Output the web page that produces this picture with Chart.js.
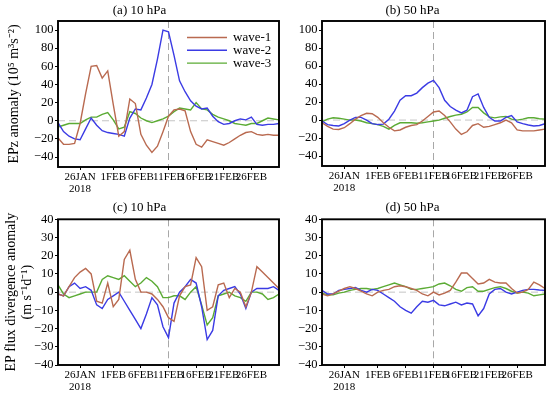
<!DOCTYPE html>
<html>
<head>
<meta charset="utf-8">
<title>EP flux anomalies, 2018 SSW</title>
<script src="https://cdn.jsdelivr.net/npm/chart.js@4.4.0/dist/chart.umd.min.js"></script>
<style>
  html, body { margin: 0; padding: 0; background: #fff; }
  #wrap { position: relative; width: 550px; height: 395px; overflow: hidden; }
  #wrap canvas { position: absolute; }
</style>
</head>
<body>
<div id="wrap">
  <canvas id="chart-a" width="282" height="198" style="left:0;top:0"></canvas>
  <canvas id="chart-b" width="270" height="198" style="left:280px;top:0"></canvas>
  <canvas id="chart-c" width="282" height="197" style="left:0;top:198px"></canvas>
  <canvas id="chart-d" width="270" height="197" style="left:280px;top:198px"></canvas>
</div>
<script>
// days since 22 Jan 2018 (daily values)
const days = [0,1,2,3,4,5,6,7,8,9,10,11,12,13,14,15,16,17,18,19,20,
              21,22,23,24,25,26,27,28,29,30,31,32,33,34,35,36,37,38,39,40];
const tickDays = [4, 10, 15, 20, 25, 30, 35];
const tickLabels = [['26JAN', '2018'], '1FEB', '6FEB', '11FEB', '16FEB', '21FEB', '26FEB'];
const onsetDay = 20; // 11 FEB
const waveNames = ['wave-1', 'wave-2', 'wave-3'];
const waveColors = ['#b96a50', '#3b3be4', '#5bab34'];

// (a) EPz anomaly, 10 hPa
const epz10Wave1 = [-19,-26,-26,-25,-3,30,60,61,47,55,18,-17,-12,24,19,-15,-27,-35,-28,-12,5,
                    12,13,11,-12,-26,-29,-21,-23,-25,-27,-24,-20,-16,-13,-12,-15,-16,-15,-16,-16];
const epz10Wave2 = [-2,-12,-17,-20,-21,-9,3,-5,-11,-13,-14,-15,-17,3,13,12,25,40,68,100,98,
                    72,44,32,22,16,13,14,5,-1,-4,-3,0,2,1,4,-4,-5,-4,-4,-3];
const epz10Wave3 = [-7,-5,-3,-3,-3,1,4,4,7,9,1,-9,-7,10,8,3,0,-2,0,2,5,
                    10,14,13,12,20,13,12,7,4,2,0,-3,-4,-5,-3,-3,0,3,2,1];

// (b) EPz anomaly, 50 hPa
const epz50Wave1 = [-3,-7,-10,-10.5,-8.5,-4,1,5,7.5,7,3,-3,-8,-12,-11,-8,-6,-5,-1,4,9,
                    10,5,-2,-10,-16,-13,-6,-4,-8,-7,-5,-3,0,-3,-11,-12,-12,-12,-11,-10];
const epz50Wave2 = [-1,-5,-6,-6.5,-4,0,3,3,0,-4,-5,-4.5,1,10,22,27,27,30,36,41,44,
                    36,22,15,11,8,11,26,29,14,3,-1,-1,3,5,-2,-4,-5.5,-6.5,-6,-4];
const epz50Wave3 = [-2,1,2.5,2,1,0,0,-1,-3,-4,-5,-7,-10,-6,-3,-3,-3,-3.5,-3,-2,-1,
                    0,2,4,5.5,6.5,9,14,14,8,3.5,2.5,3.5,4,1,0,1,2.5,2.5,1.5,1];

// (c) EP flux divergence anomaly, 10 hPa
const div10Wave1 = [-1,-2,3,8,11,13,10,-5,-6,5,-8,-4,18,23,7,0,0,-1,-4,-8,-14,
                    -16,-2,3,4,19,14,-10,-8,4,5,-3,2,0,-8,0,14,11,8,5,2];
const div10Wave2 = [-1,-2,3,5,2,3,1,-7,-9,-4,-2,0,-5,-10,-15,-20,-12,-3,-7,-19,-25,
                    -6,0,3,7,5,-8,-26,-21,-2,1,2,3,-1,-9,0,2,2,2,3,1];
const div10Wave3 = [4,-1,-3,-2,-1,0,0,0,7,9,8,7,9,6,3,5,8,6,3,-3,-3,
                    -2,-2,-4,0,3,-7,-18,-14,-2,-1,0,-2,-3,-5,0,0,-1,-4,-3,-1];

// (d) EP flux divergence anomaly, 50 hPa
const div50Wave1 = [-1,-2,-1,0.5,2,3,2,0.5,-1,-2,0,1,1.5,3,3.5,3,2,1,-1,-2,0,
                    -1.5,-0.5,1,5.5,10.5,10.5,7.5,4.5,5,7,5.5,5,5,2,-0.5,0,1.5,5.5,4,2];
const div50Wave2 = [1,-1,-1,1,1.5,2,2.5,1,0,1.5,1,-1,-3,-5,-8,-10,-11.5,-8,-5,-5.5,-4.5,
                    -7,-7.5,-6.5,-5.5,-7,-6,-6.5,-13,-9,-1,1.5,2,0,-1,0,1,1.5,1.5,1.2,1];
const div50Wave3 = [-0.5,-1.5,-1.5,-0.5,0,1,1.5,2,2,1.5,2,3,4,5,4,3,1.5,1.5,2,2.5,3,
                    4.5,5,3.5,1.5,0.5,2.5,3,0.5,0.5,1.5,2.5,3,2,0.5,-0.5,0,-0.5,-2,-1.5,-1];

const epzTicks = [-40, -20, 0, 20, 40, 60, 80, 100];
const divTicks = [-40, -30, -20, -10, 0, 10, 20, 30, 40];

Chart.defaults.font.family = '"Liberation Serif", "Times New Roman", serif';
Chart.defaults.color = '#000';

// dashed zero line, dashed onset line and the black box round the plot
const frameLines = {
    id: 'frameLines',
    beforeDatasetsDraw(chart) {
        const {ctx, chartArea: a, scales: {x, y}} = chart;
        ctx.save();
        ctx.lineWidth = 1;
        ctx.setLineDash([7, 4]);
        ctx.strokeStyle = '#c4c4c4';
        const y0 = y.getPixelForValue(0);
        ctx.beginPath();
        ctx.moveTo(a.left, y0);
        ctx.lineTo(a.right, y0);
        ctx.stroke();
        ctx.strokeStyle = '#a8a8a8';
        const xk = x.getPixelForValue(onsetDay);
        ctx.beginPath();
        ctx.moveTo(xk, a.top);
        ctx.lineTo(xk, a.bottom);
        ctx.stroke();
        ctx.restore();
    },
    afterDraw(chart) {
        const {ctx, chartArea: a} = chart;
        ctx.save();
        ctx.strokeStyle = '#000';
        ctx.lineWidth = 1.9;
        ctx.strokeRect(a.left, a.top, a.right - a.left, a.bottom - a.top);
        ctx.restore();
    }
};

// legend drawn inside the plot of panel (a)
const waveLegend = {
    id: 'waveLegend',
    afterDatasetsDraw(chart, args, opts) {
        if (!opts.show) return;
        const {ctx, chartArea: a} = chart;
        ctx.save();
        ctx.font = '13px "Liberation Serif", serif';
        ctx.textBaseline = 'middle';
        chart.data.datasets.forEach((ds, i) => {
            const y = a.top + 16.5 + i * 12.8;
            const x0 = a.left + 129;
            ctx.strokeStyle = ds.borderColor;
            ctx.lineWidth = 1.4;
            ctx.beginPath();
            ctx.moveTo(x0, y);
            ctx.lineTo(x0 + 40, y);
            ctx.stroke();
            ctx.fillStyle = '#000';
            ctx.fillText(ds.label, x0 + 46, y + 0.5);
        });
        ctx.restore();
    }
};

function makePanel(id, opts) {
    const datasets = opts.series.map((vals, i) => ({
        label: waveNames[i],
        data: vals,
        borderColor: waveColors[i],
        backgroundColor: waveColors[i],
        borderWidth: 1.4,
        pointRadius: 0,
        tension: 0,
        fill: false
    }));

    return new Chart(document.getElementById(id), {
        type: 'line',
        data: { labels: days, datasets: datasets },
        options: {
            responsive: false,
            animation: false,
            layout: { padding: { left: 0, right: opts.padRight, top: 0, bottom: 0 } },
            plugins: {
                legend: { display: false },
                tooltip: { enabled: false },
                title: {
                    display: true,
                    text: opts.title,
                    font: { size: 13, weight: 'normal' },
                    padding: opts.titlePad
                },
                waveLegend: { show: !!opts.legend }
            },
            scales: {
                x: {
                    type: 'linear',
                    min: 0,
                    max: 40,
                    border: { display: false },
                    grid: { drawOnChartArea: false, drawTicks: true, tickLength: 3, color: '#000' },
                    ticks: {
                        autoSkip: false,
                        maxRotation: 0,
                        padding: 1,
                        font: { size: 11, lineHeight: 1.08 },
                        callback: value => tickLabels[tickDays.indexOf(value)]
                    },
                    afterBuildTicks: scale => {
                        scale.ticks = tickDays.map(v => ({ value: v }));
                    },
                    afterFit: scale => { scale.height = opts.xHeight; }
                },
                y: {
                    min: opts.yMin,
                    max: opts.yMax,
                    border: { display: false },
                    grid: { drawOnChartArea: false, drawTicks: true, tickLength: 3, color: '#000' },
                    ticks: {
                        padding: 1.5,
                        font: { size: 12.5 },
                        callback: value => (value < 0 ? '\u2212' + Math.abs(value) : String(value))
                    },
                    afterBuildTicks: scale => {
                        scale.ticks = opts.yTicks.map(v => ({ value: v }));
                    },
                    title: {
                        display: !!opts.yTitle,
                        text: opts.yTitle || '',
                        font: { size: 14, lineHeight: 1.1 },
                        padding: { top: opts.yTitleGap, bottom: 0 }
                    },
                    afterFit: scale => { scale.width = opts.yWidth; }
                }
            }
        },
        plugins: [frameLines, waveLegend]
    });
}

makePanel('chart-a', {
    title: '(a) 10 hPa',
    series: [epz10Wave1, epz10Wave2, epz10Wave3],
    yMin: -51, yMax: 110, yTicks: epzTicks,
    yTitle: 'EPz anomaly (10\u2075 m\u00b3s\u207b\u00b2)',
    yTitleGap: 7,
    yWidth: 58, padRight: 3, xHeight: 31,
    titlePad: { top: 3, bottom: 2.4 },
    legend: true
});

makePanel('chart-b', {
    title: '(b) 50 hPa',
    series: [epz50Wave1, epz50Wave2, epz50Wave3],
    yMin: -51, yMax: 110, yTicks: epzTicks,
    yWidth: 42, padRight: 5, xHeight: 32,
    titlePad: { top: 3, bottom: 2.4 }
});

makePanel('chart-c', {
    title: '(c) 10 hPa',
    series: [div10Wave1, div10Wave2, div10Wave3],
    yMin: -40, yMax: 40, yTicks: divTicks,
    yTitle: ['EP flux divergence anomaly', '(m s\u207b\u00b9d\u207b\u00b9)'],
    yTitleGap: 4,
    yWidth: 58, padRight: 3, xHeight: 30,
    titlePad: { top: 1.5, bottom: 4.2 }
});

makePanel('chart-d', {
    title: '(d) 50 hPa',
    series: [div50Wave1, div50Wave2, div50Wave3],
    yMin: -40, yMax: 40, yTicks: divTicks,
    yWidth: 42, padRight: 5, xHeight: 30,
    titlePad: { top: 1.5, bottom: 4.2 }
});
</script>
</body>
</html>
